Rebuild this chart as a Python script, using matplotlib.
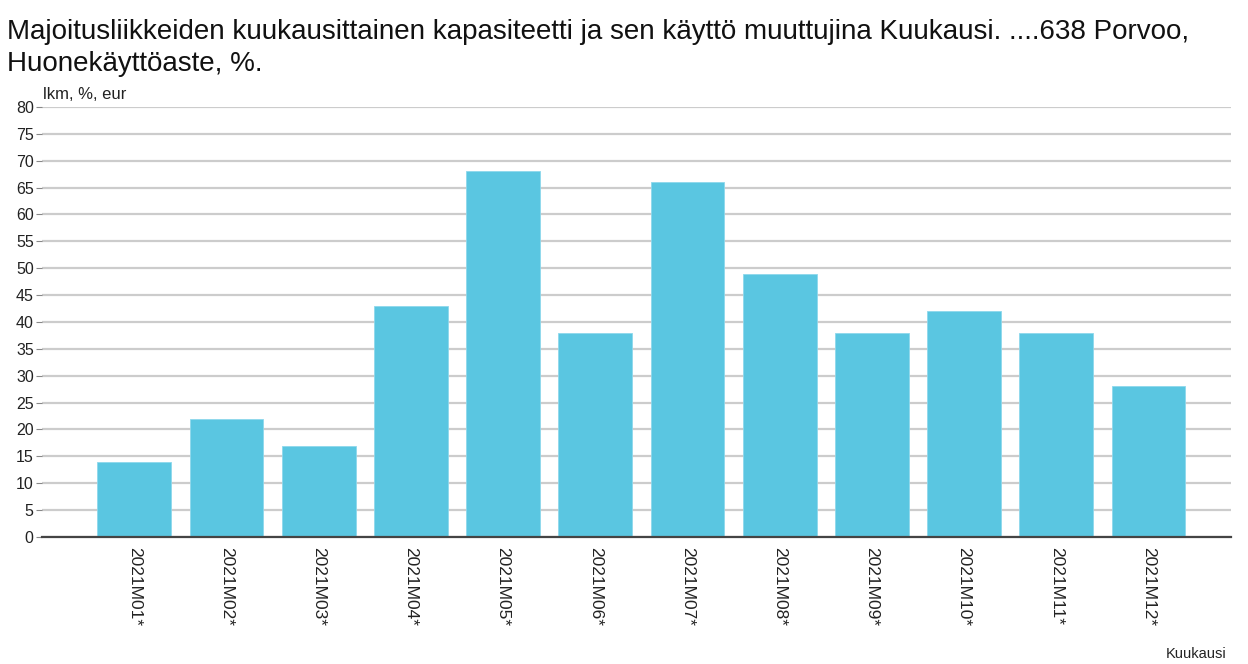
import matplotlib
matplotlib.use("Agg")
import matplotlib.pyplot as plt

# data
months = ["2021M01*", "2021M02*", "2021M03*", "2021M04*", "2021M05*", "2021M06*",
          "2021M07*", "2021M08*", "2021M09*", "2021M10*", "2021M11*", "2021M12*"]
occupancy = [14, 22, 17, 43, 68, 38, 66, 49, 38, 42, 38, 28]
yticks = list(range(0, 85, 5))

plt.rcParams['font.family'] = ['Liberation Sans', 'DejaVu Sans']

fig = plt.figure(figsize=(12.48, 6.64), dpi=100)
ax = fig.add_axes([0.0337, 0.1913, 0.953, 0.6477])

x = list(range(len(months)))
ax.bar(x, occupancy, width=0.8, color='#5AC6E1', edgecolor='#8ED8EC', linewidth=0.6, zorder=3)

ax.set_xlim(-1, 11.9)
ax.set_ylim(0, 80)
ax.set_yticks(yticks)
ax.set_yticklabels([str(v) for v in yticks], fontsize=11.5, color='#222222')
ax.set_xticks(x)
ax.set_xticklabels(months, rotation=270, fontsize=12.5, color='#222222', va='top', ha='center')
ax.tick_params(axis='y', length=4, color='#888888', pad=2)
ax.tick_params(axis='x', length=0, pad=7)

ax.grid(axis='y', color='#CCCCCC', linewidth=1.6, zorder=0)
for s in ['top', 'right', 'left']:
    ax.spines[s].set_visible(False)
ax.spines['bottom'].set_color('#444444')
ax.spines['bottom'].set_linewidth(1.6)
ax.spines['bottom'].set_zorder(4)

fig.text(0.006, 0.972, "Majoitusliikkeiden kuukausittainen kapasiteetti ja sen käyttö muuttujina Kuukausi. ....638 Porvoo,\nHuonekäyttöaste, %.",
         fontsize=20, va='top', ha='left', color='#111111', linespacing=1.3)
fig.text(0.0345, 0.846, "lkm, %, eur", fontsize=12, va='bottom', ha='left', color='#222222')
fig.text(0.983, 0.004, "Kuukausi", fontsize=10.5, va='bottom', ha='right', color='#222222')

fig.savefig("out.png", dpi=100)
